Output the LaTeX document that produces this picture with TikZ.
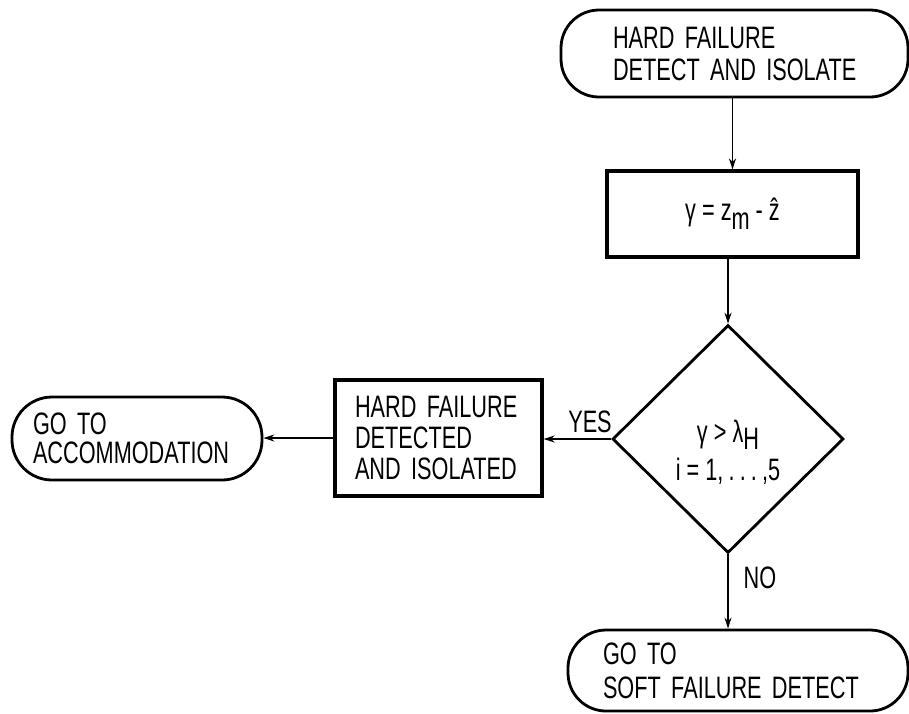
\documentclass[tikz,border=0pt]{standalone}
\usepackage{fontspec}
\setmainfont[FakeStretch=0.7]{Liberation Sans}
\usetikzlibrary{shapes.geometric,arrows.meta}
\hfuzz=300pt
\hbadness=10000
\hyphenpenalty=10000
\exhyphenpenalty=10000
\begin{document}
\begin{tikzpicture}[x=1pt,y=-1pt,
  every node/.style={font=\fontsize{31}{32}\selectfont},
  term/.style={draw, line width=2.8pt, rounded corners=38pt, align=left, inner sep=0pt},
  proc/.style={draw, line width=3.2pt, inner sep=0pt},
  arr/.style={line width=1.7pt, -{Stealth[length=11pt,width=7pt]}},
  lbl/.style={inner sep=0pt}]
\useasboundingbox (0,0) rectangle (909,713);
\fill[white] (0,0) rectangle (909,713);

\node[term, minimum width=347pt, minimum height=87pt, text width=243pt] (start) at (734.5,53.5)
  {\mbox{HARD FAILURE}\\\mbox{DETECT AND ISOLATE}};

\node[proc, minimum width=251pt, minimum height=86pt] (eq) at (732.5,214)
  {γ = z\raisebox{-9pt}{m} - \^{z}};

\node[draw, diamond, line width=2.8pt, minimum width=231pt, minimum height=228pt, inner sep=0pt] (dec) at (728,439) {};
\node[lbl, align=center, font=\fontsize{31}{38}\selectfont] (dectext) at (728,452)
  {γ > λ\raisebox{-7pt}{H}\\i = 1,\,.\,.\,.\,,5};

\node[proc, minimum width=207pt, minimum height=116pt, text width=167pt, align=left,
  font=\fontsize{31}{31}\selectfont] (det) at (438.5,438)
  {\mbox{HARD FAILURE}\\\mbox{DETECTED}\\\mbox{AND ISOLATED}};

\node[term, rounded corners=40pt, minimum width=250pt, minimum height=83pt, text width=208pt,
  font=\fontsize{31}{29}\selectfont] (acc) at (137,438.5)
  {\mbox{GO TO}\\\mbox{ACCOMMODATION}};

\node[term, minimum width=340pt, minimum height=81pt, text width=270pt,
  font=\fontsize{31}{34}\selectfont] (bot) at (738,670.5)
  {\mbox{GO TO}\\\mbox{SOFT FAILURE DETECT}};

\node[lbl] (yes) at (590,422) {YES};
\node[lbl] (no) at (760,578) {NO};

\draw[arr] (start.south -| eq.north) -- (eq.north);
\draw[arr] (eq.south -| dec.north) -- (dec.north);
\draw[arr] (dec.west) -- (dec.west -| det.east);
\draw[arr] (det.west) -- (det.west -| acc.east);
\draw[arr] (dec.south) -- (dec.south |- bot.north);
\end{tikzpicture}
\end{document}
